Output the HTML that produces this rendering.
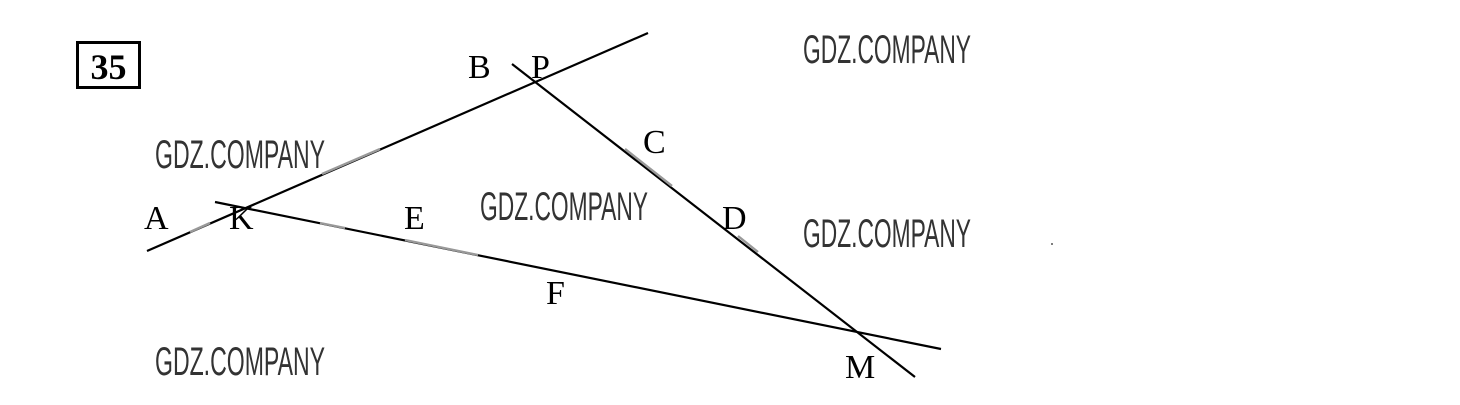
<!DOCTYPE html>
<html><head><meta charset="utf-8"><style>html,body{margin:0;padding:0;background:#fff;}svg{display:block}</style></head>
<body>
<svg width="1460" height="405" viewBox="0 0 1460 405" xmlns="http://www.w3.org/2000/svg">
<rect x="77.5" y="42.5" width="62" height="45" fill="#fff" stroke="#000" stroke-width="3"/>
<text x="108.5" y="79" text-anchor="middle" font-family="Liberation Serif, serif" font-weight="bold" font-size="36" fill="#000">35</text>
<g stroke="#000" stroke-width="2.2" fill="none">
<line x1="147" y1="251" x2="648" y2="33"/>
<line x1="512" y1="64" x2="915" y2="377"/>
<line x1="215" y1="202" x2="941" y2="349"/>
</g>
<g stroke="#999" stroke-width="2.4">
<line x1="322" y1="174" x2="380" y2="149"/>
<line x1="190" y1="232" x2="210" y2="223"/>
<line x1="625" y1="149" x2="672" y2="186"/>
<line x1="738" y1="236" x2="758" y2="252"/>
<line x1="320" y1="223" x2="345" y2="228"/>
<line x1="405" y1="240" x2="478" y2="255"/>
</g>
<g font-family="Liberation Serif, serif" font-size="34" fill="#000">
<text x="468" y="78">B</text>
<text x="531" y="78">P</text>
<text x="643" y="153">C</text>
<text x="722" y="229">D</text>
<text x="144" y="229">A</text>
<text x="229" y="229">K</text>
<text x="404" y="229">E</text>
<text x="546" y="304">F</text>
<text x="845" y="378">M</text>
</g>
<g font-family="DejaVu Sans ExtraLight, Liberation Sans, sans-serif" font-weight="200" font-size="40" fill="#333">
<text x="155" y="168" textLength="170" lengthAdjust="spacingAndGlyphs">GDZ.COMPANY</text>
<text x="803" y="63" textLength="168" lengthAdjust="spacingAndGlyphs">GDZ.COMPANY</text>
<text x="480" y="220" textLength="168" lengthAdjust="spacingAndGlyphs">GDZ.COMPANY</text>
<text x="803" y="247" textLength="168" lengthAdjust="spacingAndGlyphs">GDZ.COMPANY</text>
<text x="155" y="375" textLength="170" lengthAdjust="spacingAndGlyphs">GDZ.COMPANY</text>
</g>
<circle cx="1052" cy="244" r="1" fill="#555"/>
</svg>
</body></html>
